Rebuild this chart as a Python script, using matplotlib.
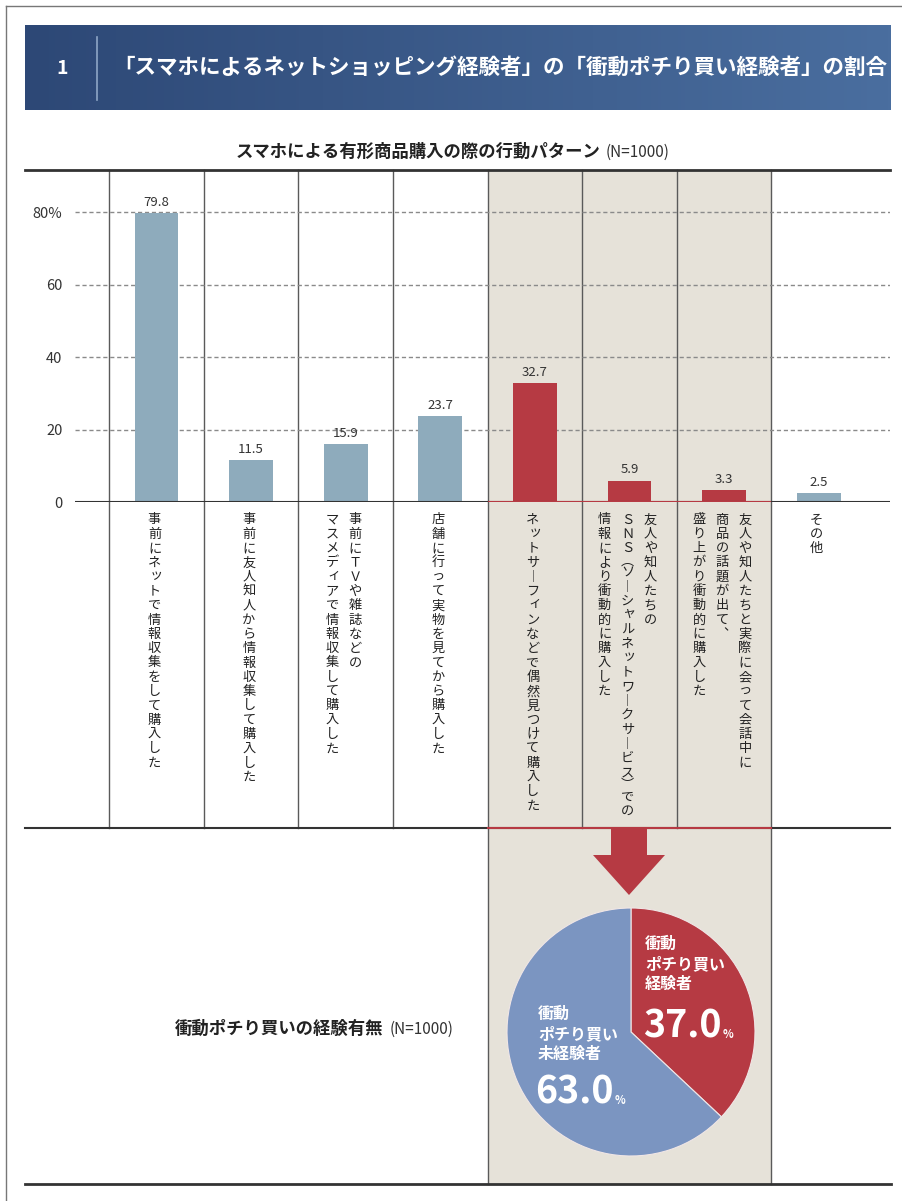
import numpy as np
import matplotlib.pyplot as plt
from matplotlib.patches import Rectangle, Polygon
from matplotlib.colors import LinearSegmentedColormap

plt.rcParams['font.family'] = ['Noto Sans CJK JP', 'DejaVu Sans']

# data
values = [79.8, 11.5, 15.9, 23.7, 32.7, 5.9, 3.3, 2.5]
labels = [
    ["事前にネットで情報収集をして購入した"],
    ["事前に友人知人から情報収集して購入した"],
    ["事前にＴＶや雑誌などの", "マスメディアで情報収集して購入した"],
    ["店舗に行って実物を見てから購入した"],
    ["ネットサーフィンなどで偶然見つけて購入した"],
    ["友人や知人たちの", "ＳＮＳ(ソーシャルネットワークサービス)での", "情報により衝動的に購入した"],
    ["友人や知人たちと実際に会って会話中に", "商品の話題が出て、", "盛り上がり衝動的に購入した"],
    ["その他"],
]
highlight = [4, 5, 6]
yticks = [0, 20, 40, 60, 80]
ytick_labels = ["0", "20", "40", "60", "80%"]

pie_values = [37.0, 63.0]
pie_labels = ["衝動\nポチり買い\n経験者", "衝動\nポチり買い\n未経験者"]

title = "「スマホによるネットショッピング経験者」の「衝動ポチり買い経験者」の割合"
subtitle = "スマホによる有形商品購入の際の行動パターン"
pie_title = "衝動ポチり買いの経験有無"

BLUE = "#8eabbc"
RED = "#b63a43"
BEIGE = "#e6e2d9"
DARK = "#333333"

W, H = 902, 1201
fig = plt.figure(figsize=(W / 100, H / 100), dpi=100)

# background axes in pixel coordinates
bg = fig.add_axes([0, 0, 1, 1])
bg.set_xlim(0, W)
bg.set_ylim(H, 0)
bg.axis('off')

# layout
col_left, col_w = 109.2, 94.6
y_top, y_zero, y_mid, y_bot = 170, 502, 828, 1184
px_per_unit = 3.625
n = len(values)
hl_left = col_left + col_w * highlight[0]
hl_right = col_left + col_w * (highlight[-1] + 1)

# outer border (top + left)
bg.plot([6, W], [6, 6], color="#777777", lw=1)
bg.plot([6, 6], [6, H], color="#777777", lw=1)

# header band with gradient
grad = np.linspace(0, 1, 256).reshape(1, -1)
cmap = LinearSegmentedColormap.from_list("hdr", ["#2d4876", "#4a6e9f"])
bg.imshow(grad, cmap=cmap, extent=(25, 891, 110, 25), aspect='auto', zorder=1)
bg.plot([97, 97], [37, 100], color="#8fa6c6", lw=1.2, zorder=2)
bg.text(62, 68, "1", color="white", fontsize=14, fontweight='bold', ha='center', va='center', zorder=3)
bg.text(113, 67, title, color="white", fontsize=15.5, fontweight='bold', ha='left', va='center', zorder=3)

# subtitle
bg.text(601, 157, subtitle, fontsize=12.5, fontweight='bold', color="#222222", ha='right', va='baseline')
bg.text(606, 157, "(N=1000)", fontsize=11, color="#333333", ha='left', va='baseline')

# beige highlight region
bg.add_patch(Rectangle((hl_left, y_top), hl_right - hl_left, y_bot - y_top, facecolor=BEIGE, edgecolor='none', zorder=0.5))

# column separators
for k in range(n):
    x = col_left + col_w * k
    yb = y_bot if k in (highlight[0], highlight[-1] + 1) else y_mid
    bg.plot([x, x], [y_top, yb], color="#5a5a5a", lw=1, zorder=2)

# horizontal rules
bg.plot([25, 890], [y_top, y_top], color=DARK, lw=2, zorder=3)
bg.plot([25, 890], [y_mid, y_mid], color=DARK, lw=1.5, zorder=3)
bg.plot([hl_left, hl_right], [y_mid, y_mid], color=RED, lw=1.5, zorder=4)
bg.plot([25, 891], [y_bot, y_bot], color=DARK, lw=2, zorder=3)

# vertical category labels (vertical presentation forms for ー, brackets, comma)
vforms = {"ー": "︱", "(": "︵", ")": "︶", "、": "︑"}
half = set("()")
small = set("ッャュョィァェォ")
pitch = 14.3
line_gap = 23
for i, cols in enumerate(labels):
    cx = col_left + col_w * (i + 0.5) - 2
    m = len(cols)
    for j, s in enumerate(cols):
        x = cx + line_gap * ((m - 1) / 2 - j)
        y = 520
        for ch in s:
            if ch in half:
                y -= pitch * 0.15
            dx = dy = 0
            if ch in small:
                dx, dy = 2, -2
            bg.text(x + dx, y + dy, vforms.get(ch, ch), fontsize=9.5, color="#222222",
                    ha='center', va='center', zorder=5)
            y += pitch * 0.85 if ch in half else pitch

# bar chart axes
ymax = (y_zero - y_top) / px_per_unit
x_lo = (75 - col_left) / col_w - 0.5
x_hi = (890 - col_left) / col_w - 0.5
ax = fig.add_axes([75 / W, 1 - y_zero / H, (890 - 75) / W, (y_zero - y_top) / H])
ax.patch.set_alpha(0)
xs = np.arange(n)
colors = [RED if i in highlight else BLUE for i in range(n)]
ax.bar(xs, values, width=0.465, color=colors, zorder=3)
for x, v in zip(xs, values):
    ax.annotate(f"{v}", (x, v), xytext=(0, 3), textcoords='offset points',
                ha='center', va='bottom', fontsize=9.5, color=DARK)
ax.set_xlim(x_lo, x_hi)
ax.set_ylim(0, ymax)
ax.set_yticks(yticks)
ax.set_yticklabels(ytick_labels, fontsize=10.5, color=DARK)
ax.set_xticks([])
ax.tick_params(axis='y', length=0, pad=9)
for sp in ax.spines.values():
    sp.set_visible(False)
for t in yticks[1:]:
    ax.axhline(t, color="#8a8a8a", lw=1, ls=(0, (3, 2)), zorder=1)
ax.axhline(0, color=DARK, lw=1.5, zorder=4)
ax.hlines(0, highlight[0] - 0.5, highlight[-1] + 0.5, color=RED, lw=1.5, zorder=5)

# arrow
acx = 629
bg.add_patch(Polygon([(acx - 18, y_mid + 1), (acx + 18, y_mid + 1), (acx + 18, 855), (acx + 36, 855),
                      (acx, 895), (acx - 36, 855), (acx - 18, 855)],
                     closed=True, facecolor=RED, edgecolor='none', zorder=4))

# pie
pcx, pcy, pr = 631, 1032, 124
axp = fig.add_axes([(pcx - pr) / W, 1 - (pcy + pr) / H, 2 * pr / W, 2 * pr / H])
axp.pie(pie_values, colors=[RED, "#7b95c1"], startangle=90, counterclock=False,
        wedgeprops=dict(edgecolor="#f0e6e6", linewidth=0.8))
axp.set_xlim(-1, 1)
axp.set_ylim(-1, 1)

# pie labels (drawn on the pie axes, positioned in page pixels)
tr = bg.transData
kw = dict(color="white", fontweight='bold', transform=tr, clip_on=False, zorder=6)
axp.text(645, 936, pie_labels[0], fontsize=11.5, ha='left', va='top', linespacing=1.3, **kw)
axp.text(643, 1026, f"{pie_values[0]:.1f}", fontsize=27, ha='left', va='center', **kw)
axp.text(723, 1035, "%", fontsize=8, ha='left', va='center', **kw)
axp.text(538, 1006, pie_labels[1], fontsize=11.5, ha='left', va='top', linespacing=1.3, **kw)
axp.text(535, 1092, f"{pie_values[1]:.1f}", fontsize=27, ha='left', va='center', **kw)
axp.text(615, 1101, "%", fontsize=8, ha='left', va='center', **kw)

bg.text(383, 1034, pie_title, fontsize=12.5, fontweight='bold', color="#222222", ha='right', va='baseline')
bg.text(390, 1034, "(N=1000)", fontsize=11, color="#333333", ha='left', va='baseline')

fig.savefig("out.png", dpi=100)
